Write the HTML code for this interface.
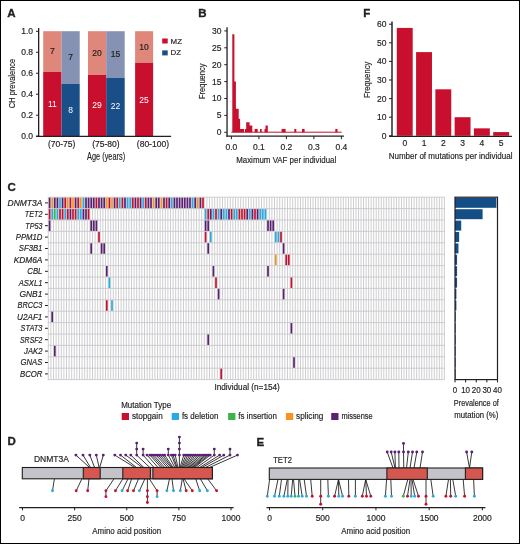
<!DOCTYPE html>
<html><head><meta charset="utf-8"><style>
html,body{margin:0;padding:0;background:#fff;width:520px;height:544px;overflow:hidden;}
#fig{color:#231f20;position:relative;width:520px;height:544px;overflow:hidden;background:#fff;}
#fig svg{position:absolute;left:0;top:0;will-change:transform;}
#frame{position:absolute;left:0;top:0;width:520px;height:544px;box-sizing:border-box;border:1px solid #000;}
text{font-family:"Liberation Sans", sans-serif;}
text.b{stroke:#231f20;stroke-width:0.35px;}
</style></head><body><div id="fig">
<svg width="520" height="544" viewBox="0 0 520 544" fill="#231f20">
<text x="7.30" y="17.00" font-size="11.5" class="b" font-weight="bold">A</text>
<line x1="38.65" y1="27.90" x2="38.65" y2="136.90" stroke="#231f20" stroke-width="1.3"/>
<line x1="36.00" y1="136.20" x2="38.65" y2="136.20" stroke="#231f20" stroke-width="1.0"/>
<text x="33.00" y="139.10" font-size="8.5" text-anchor="end" stroke="#231f20" stroke-width="0.18">0.0</text>
<line x1="36.00" y1="115.22" x2="38.65" y2="115.22" stroke="#231f20" stroke-width="1.0"/>
<text x="33.00" y="118.12" font-size="8.5" text-anchor="end" stroke="#231f20" stroke-width="0.18">0.2</text>
<line x1="36.00" y1="94.24" x2="38.65" y2="94.24" stroke="#231f20" stroke-width="1.0"/>
<text x="33.00" y="97.14" font-size="8.5" text-anchor="end" stroke="#231f20" stroke-width="0.18">0.4</text>
<line x1="36.00" y1="73.26" x2="38.65" y2="73.26" stroke="#231f20" stroke-width="1.0"/>
<text x="33.00" y="76.16" font-size="8.5" text-anchor="end" stroke="#231f20" stroke-width="0.18">0.6</text>
<line x1="36.00" y1="52.28" x2="38.65" y2="52.28" stroke="#231f20" stroke-width="1.0"/>
<text x="33.00" y="55.18" font-size="8.5" text-anchor="end" stroke="#231f20" stroke-width="0.18">0.8</text>
<line x1="36.00" y1="31.30" x2="38.65" y2="31.30" stroke="#231f20" stroke-width="1.0"/>
<text x="33.00" y="34.20" font-size="8.5" text-anchor="end" stroke="#231f20" stroke-width="0.18">1.0</text>
<text x="14.90" y="83.50" font-size="9" text-anchor="middle" stroke="#231f20" stroke-width="0.18" textLength="49.40" lengthAdjust="spacingAndGlyphs" transform="rotate(-90 14.90 83.50)">CH prevalence</text>
<rect x="43.20" y="31.20" width="18.30" height="40.80" fill="#df877a"/>
<rect x="43.20" y="72.00" width="18.30" height="64.20" fill="#c8102e"/>
<text x="52.35" y="54.10" font-size="8.5" text-anchor="middle" stroke="#231f20" stroke-width="0.18">7</text>
<text x="52.35" y="106.90" font-size="8.5" class="w" text-anchor="middle" fill="#ffffff">11</text>
<rect x="61.50" y="31.20" width="18.20" height="52.60" fill="#8692b4"/>
<rect x="61.50" y="83.80" width="18.20" height="52.40" fill="#1a4e86"/>
<text x="70.60" y="59.90" font-size="8.5" text-anchor="middle" stroke="#231f20" stroke-width="0.18">7</text>
<text x="70.60" y="113.10" font-size="8.5" class="w" text-anchor="middle" fill="#ffffff">8</text>
<rect x="88.00" y="31.20" width="18.20" height="43.80" fill="#df877a"/>
<rect x="88.00" y="75.00" width="18.20" height="61.20" fill="#c8102e"/>
<text x="97.10" y="55.95" font-size="8.5" text-anchor="middle" stroke="#231f20" stroke-width="0.18">20</text>
<text x="97.10" y="108.20" font-size="8.5" class="w" text-anchor="middle" fill="#ffffff">29</text>
<rect x="106.20" y="31.20" width="18.50" height="46.60" fill="#8692b4"/>
<rect x="106.20" y="77.80" width="18.50" height="58.40" fill="#1a4e86"/>
<text x="115.45" y="56.95" font-size="8.5" text-anchor="middle" stroke="#231f20" stroke-width="0.18">15</text>
<text x="115.45" y="109.40" font-size="8.5" class="w" text-anchor="middle" fill="#ffffff">22</text>
<rect x="135.10" y="31.20" width="18.00" height="31.60" fill="#df877a"/>
<rect x="135.10" y="62.80" width="18.00" height="73.40" fill="#c8102e"/>
<text x="144.10" y="49.50" font-size="8.5" text-anchor="middle" stroke="#231f20" stroke-width="0.18">10</text>
<text x="144.10" y="102.50" font-size="8.5" class="w" text-anchor="middle" fill="#ffffff">25</text>
<line x1="36.00" y1="136.35" x2="171.10" y2="136.35" stroke="#231f20" stroke-width="1.2"/>
<text x="61.60" y="146.60" font-size="8.5" text-anchor="middle" stroke="#231f20" stroke-width="0.18">(70-75)</text>
<text x="105.90" y="146.60" font-size="8.5" text-anchor="middle" stroke="#231f20" stroke-width="0.18">(75-80)</text>
<text x="152.90" y="146.60" font-size="8.5" text-anchor="middle" stroke="#231f20" stroke-width="0.18">(80-100)</text>
<text x="106.10" y="160.40" font-size="10" text-anchor="middle" stroke="#231f20" stroke-width="0.18" textLength="38.00" lengthAdjust="spacingAndGlyphs">Age (years)</text>
<rect x="162.20" y="38.50" width="5.50" height="5.00" fill="#c8102e"/>
<rect x="162.20" y="50.40" width="5.50" height="5.00" fill="#1a4e86"/>
<text x="170.60" y="43.50" font-size="8" stroke="#231f20" stroke-width="0.18" textLength="11.40" lengthAdjust="spacingAndGlyphs">MZ</text>
<text x="170.60" y="55.40" font-size="8" stroke="#231f20" stroke-width="0.18" textLength="10.50" lengthAdjust="spacingAndGlyphs">DZ</text>
<text x="198.20" y="17.20" font-size="11.5" class="b" font-weight="bold">B</text>
<line x1="227.05" y1="27.30" x2="227.05" y2="136.80" stroke="#231f20" stroke-width="1.3"/>
<line x1="224.30" y1="132.30" x2="227.05" y2="132.30" stroke="#231f20" stroke-width="1.0"/>
<text x="221.50" y="135.20" font-size="8.5" text-anchor="end" stroke="#231f20" stroke-width="0.18">0</text>
<line x1="224.30" y1="115.40" x2="227.05" y2="115.40" stroke="#231f20" stroke-width="1.0"/>
<text x="221.50" y="118.30" font-size="8.5" text-anchor="end" stroke="#231f20" stroke-width="0.18">5</text>
<line x1="224.30" y1="98.50" x2="227.05" y2="98.50" stroke="#231f20" stroke-width="1.0"/>
<text x="221.50" y="101.40" font-size="8.5" text-anchor="end" stroke="#231f20" stroke-width="0.18">10</text>
<line x1="224.30" y1="81.60" x2="227.05" y2="81.60" stroke="#231f20" stroke-width="1.0"/>
<text x="221.50" y="84.50" font-size="8.5" text-anchor="end" stroke="#231f20" stroke-width="0.18">15</text>
<line x1="224.30" y1="64.70" x2="227.05" y2="64.70" stroke="#231f20" stroke-width="1.0"/>
<text x="221.50" y="67.60" font-size="8.5" text-anchor="end" stroke="#231f20" stroke-width="0.18">20</text>
<line x1="224.30" y1="47.80" x2="227.05" y2="47.80" stroke="#231f20" stroke-width="1.0"/>
<text x="221.50" y="50.70" font-size="8.5" text-anchor="end" stroke="#231f20" stroke-width="0.18">25</text>
<line x1="224.30" y1="30.90" x2="227.05" y2="30.90" stroke="#231f20" stroke-width="1.0"/>
<text x="221.50" y="33.80" font-size="8.5" text-anchor="end" stroke="#231f20" stroke-width="0.18">30</text>
<text x="205.30" y="81.30" font-size="8.5" text-anchor="middle" stroke="#231f20" stroke-width="0.18" textLength="35.50" lengthAdjust="spacingAndGlyphs" transform="rotate(-90 205.30 81.30)">Frequency</text>
<path d="M232.30,132.30 L232.30,34.28 L234.40,34.28 L234.40,81.60 L235.90,81.60 L235.90,108.64 L238.70,108.64 L238.70,118.78 L240.10,118.78 L240.10,128.92 L244.00,128.92 L244.00,132.30 Z" fill="#c8102e"/>
<path d="M244.90,132.30 L244.90,128.92 L246.20,128.92 L246.20,122.16 L249.60,122.16 L249.60,125.54 L252.30,125.54 L252.30,132.30 Z" fill="#c8102e"/>
<path d="M254.60,132.30 L254.60,128.92 L257.70,128.92 L257.70,132.30 Z" fill="#c8102e"/>
<path d="M260.00,132.30 L260.00,128.92 L261.70,128.92 L261.70,132.30 Z" fill="#c8102e"/>
<path d="M264.50,132.30 L264.50,128.92 L265.50,128.92 L265.50,125.54 L267.80,125.54 L267.80,132.30 Z" fill="#c8102e"/>
<path d="M281.60,132.30 L281.60,128.92 L285.60,128.92 L285.60,132.30 Z" fill="#c8102e"/>
<path d="M294.30,132.30 L294.30,128.92 L296.30,128.92 L296.30,132.30 Z" fill="#c8102e"/>
<path d="M302.00,132.30 L302.00,128.92 L304.60,128.92 L304.60,132.30 Z" fill="#c8102e"/>
<path d="M335.30,132.30 L335.30,128.92 L337.50,128.92 L337.50,132.30 Z" fill="#c8102e"/>
<line x1="231.30" y1="132.20" x2="341.70" y2="132.20" stroke="#c8102e" stroke-width="1.0"/>
<line x1="226.40" y1="136.15" x2="343.90" y2="136.15" stroke="#231f20" stroke-width="1.2"/>
<line x1="231.40" y1="136.15" x2="231.40" y2="139.20" stroke="#231f20" stroke-width="1.0"/>
<text x="231.40" y="149.90" font-size="8.5" text-anchor="middle" stroke="#231f20" stroke-width="0.18">0.0</text>
<line x1="258.90" y1="136.15" x2="258.90" y2="139.20" stroke="#231f20" stroke-width="1.0"/>
<text x="258.90" y="149.90" font-size="8.5" text-anchor="middle" stroke="#231f20" stroke-width="0.18">0.1</text>
<line x1="286.40" y1="136.15" x2="286.40" y2="139.20" stroke="#231f20" stroke-width="1.0"/>
<text x="286.40" y="149.90" font-size="8.5" text-anchor="middle" stroke="#231f20" stroke-width="0.18">0.2</text>
<line x1="313.90" y1="136.15" x2="313.90" y2="139.20" stroke="#231f20" stroke-width="1.0"/>
<text x="313.90" y="149.90" font-size="8.5" text-anchor="middle" stroke="#231f20" stroke-width="0.18">0.3</text>
<line x1="341.40" y1="136.15" x2="341.40" y2="139.20" stroke="#231f20" stroke-width="1.0"/>
<text x="341.40" y="149.90" font-size="8.5" text-anchor="middle" stroke="#231f20" stroke-width="0.18">0.4</text>
<text x="286.20" y="162.90" font-size="9.2" text-anchor="middle" stroke="#231f20" stroke-width="0.18" textLength="100.00" lengthAdjust="spacingAndGlyphs">Maximum VAF per individual</text>
<text x="363.20" y="16.90" font-size="11.5" class="b" font-weight="bold">F</text>
<line x1="392.00" y1="21.50" x2="392.00" y2="136.80" stroke="#231f20" stroke-width="1.45"/>
<line x1="389.00" y1="135.80" x2="392.00" y2="135.80" stroke="#231f20" stroke-width="1.0"/>
<text x="386.50" y="138.70" font-size="8.5" text-anchor="end" stroke="#231f20" stroke-width="0.18">0</text>
<line x1="389.00" y1="117.20" x2="392.00" y2="117.20" stroke="#231f20" stroke-width="1.0"/>
<text x="386.50" y="120.10" font-size="8.5" text-anchor="end" stroke="#231f20" stroke-width="0.18">10</text>
<line x1="389.00" y1="98.60" x2="392.00" y2="98.60" stroke="#231f20" stroke-width="1.0"/>
<text x="386.50" y="101.50" font-size="8.5" text-anchor="end" stroke="#231f20" stroke-width="0.18">20</text>
<line x1="389.00" y1="80.00" x2="392.00" y2="80.00" stroke="#231f20" stroke-width="1.0"/>
<text x="386.50" y="82.90" font-size="8.5" text-anchor="end" stroke="#231f20" stroke-width="0.18">30</text>
<line x1="389.00" y1="61.40" x2="392.00" y2="61.40" stroke="#231f20" stroke-width="1.0"/>
<text x="386.50" y="64.30" font-size="8.5" text-anchor="end" stroke="#231f20" stroke-width="0.18">40</text>
<line x1="389.00" y1="42.80" x2="392.00" y2="42.80" stroke="#231f20" stroke-width="1.0"/>
<text x="386.50" y="45.70" font-size="8.5" text-anchor="end" stroke="#231f20" stroke-width="0.18">50</text>
<line x1="389.00" y1="24.20" x2="392.00" y2="24.20" stroke="#231f20" stroke-width="1.0"/>
<text x="386.50" y="27.10" font-size="8.5" text-anchor="end" stroke="#231f20" stroke-width="0.18">60</text>
<text x="370.30" y="79.80" font-size="8.5" text-anchor="middle" stroke="#231f20" stroke-width="0.18" textLength="36.40" lengthAdjust="spacingAndGlyphs" transform="rotate(-90 370.30 79.80)">Frequency</text>
<rect x="396.80" y="27.92" width="15.90" height="107.88" fill="#c8102e"/>
<text x="404.75" y="146.40" font-size="8.5" text-anchor="middle" stroke="#231f20" stroke-width="0.18">0</text>
<rect x="416.08" y="52.10" width="15.90" height="83.70" fill="#c8102e"/>
<text x="424.03" y="146.40" font-size="8.5" text-anchor="middle" stroke="#231f20" stroke-width="0.18">1</text>
<rect x="435.36" y="89.30" width="15.90" height="46.50" fill="#c8102e"/>
<text x="443.31" y="146.40" font-size="8.5" text-anchor="middle" stroke="#231f20" stroke-width="0.18">2</text>
<rect x="454.64" y="117.20" width="15.90" height="18.60" fill="#c8102e"/>
<text x="462.59" y="146.40" font-size="8.5" text-anchor="middle" stroke="#231f20" stroke-width="0.18">3</text>
<rect x="473.92" y="128.36" width="15.90" height="7.44" fill="#c8102e"/>
<text x="481.87" y="146.40" font-size="8.5" text-anchor="middle" stroke="#231f20" stroke-width="0.18">4</text>
<rect x="493.20" y="132.08" width="15.90" height="3.72" fill="#c8102e"/>
<text x="501.15" y="146.40" font-size="8.5" text-anchor="middle" stroke="#231f20" stroke-width="0.18">5</text>
<line x1="389.20" y1="136.30" x2="511.90" y2="136.30" stroke="#231f20" stroke-width="1.2"/>
<text x="450.60" y="159.30" font-size="8.7" text-anchor="middle" stroke="#231f20" stroke-width="0.18" textLength="123.80" lengthAdjust="spacingAndGlyphs">Number of mutations per individual</text>
<text x="7.40" y="191.20" font-size="11.5" class="b" font-weight="bold">C</text>
<text x="42.40" y="205.80" font-size="8.5" text-anchor="end" stroke="#231f20" stroke-width="0.18" font-style="italic" textLength="34.78" lengthAdjust="spacingAndGlyphs">DNMT3A</text>
<line x1="45.00" y1="202.90" x2="48.00" y2="202.90" stroke="#231f20" stroke-width="1.0"/>
<text x="42.40" y="217.20" font-size="8.5" text-anchor="end" stroke="#231f20" stroke-width="0.18" font-style="italic" textLength="17.64" lengthAdjust="spacingAndGlyphs">TET2</text>
<line x1="45.00" y1="214.30" x2="48.00" y2="214.30" stroke="#231f20" stroke-width="1.0"/>
<text x="42.40" y="228.60" font-size="8.5" text-anchor="end" stroke="#231f20" stroke-width="0.18" font-style="italic" textLength="17.08" lengthAdjust="spacingAndGlyphs">TP53</text>
<line x1="45.00" y1="225.70" x2="48.00" y2="225.70" stroke="#231f20" stroke-width="1.0"/>
<text x="42.40" y="240.00" font-size="8.5" text-anchor="end" stroke="#231f20" stroke-width="0.18" font-style="italic" textLength="26.64" lengthAdjust="spacingAndGlyphs">PPM1D</text>
<line x1="45.00" y1="237.10" x2="48.00" y2="237.10" stroke="#231f20" stroke-width="1.0"/>
<text x="42.40" y="251.40" font-size="8.5" text-anchor="end" stroke="#231f20" stroke-width="0.18" font-style="italic" textLength="23.56" lengthAdjust="spacingAndGlyphs">SF3B1</text>
<line x1="45.00" y1="248.50" x2="48.00" y2="248.50" stroke="#231f20" stroke-width="1.0"/>
<text x="42.40" y="262.80" font-size="8.5" text-anchor="end" stroke="#231f20" stroke-width="0.18" font-style="italic" textLength="28.66" lengthAdjust="spacingAndGlyphs">KDM6A</text>
<line x1="45.00" y1="259.90" x2="48.00" y2="259.90" stroke="#231f20" stroke-width="1.0"/>
<text x="42.40" y="274.20" font-size="8.5" text-anchor="end" stroke="#231f20" stroke-width="0.18" font-style="italic" textLength="15.12" lengthAdjust="spacingAndGlyphs">CBL</text>
<line x1="45.00" y1="271.30" x2="48.00" y2="271.30" stroke="#231f20" stroke-width="1.0"/>
<text x="42.40" y="285.60" font-size="8.5" text-anchor="end" stroke="#231f20" stroke-width="0.18" font-style="italic" textLength="23.76" lengthAdjust="spacingAndGlyphs">ASXL1</text>
<line x1="45.00" y1="282.70" x2="48.00" y2="282.70" stroke="#231f20" stroke-width="1.0"/>
<text x="42.40" y="297.00" font-size="8.5" text-anchor="end" stroke="#231f20" stroke-width="0.18" font-style="italic" textLength="22.90" lengthAdjust="spacingAndGlyphs">GNB1</text>
<line x1="45.00" y1="294.10" x2="48.00" y2="294.10" stroke="#231f20" stroke-width="1.0"/>
<text x="42.40" y="308.40" font-size="8.5" text-anchor="end" stroke="#231f20" stroke-width="0.18" font-style="italic" textLength="24.86" lengthAdjust="spacingAndGlyphs">BRCC3</text>
<line x1="45.00" y1="305.50" x2="48.00" y2="305.50" stroke="#231f20" stroke-width="1.0"/>
<text x="42.40" y="319.80" font-size="8.5" text-anchor="end" stroke="#231f20" stroke-width="0.18" font-style="italic" textLength="25.34" lengthAdjust="spacingAndGlyphs">U2AF1</text>
<line x1="45.00" y1="316.90" x2="48.00" y2="316.90" stroke="#231f20" stroke-width="1.0"/>
<text x="42.40" y="331.20" font-size="8.5" text-anchor="end" stroke="#231f20" stroke-width="0.18" font-style="italic" textLength="21.86" lengthAdjust="spacingAndGlyphs">STAT3</text>
<line x1="45.00" y1="328.30" x2="48.00" y2="328.30" stroke="#231f20" stroke-width="1.0"/>
<text x="42.40" y="342.60" font-size="8.5" text-anchor="end" stroke="#231f20" stroke-width="0.18" font-style="italic" textLength="22.42" lengthAdjust="spacingAndGlyphs">SRSF2</text>
<line x1="45.00" y1="339.70" x2="48.00" y2="339.70" stroke="#231f20" stroke-width="1.0"/>
<text x="42.40" y="354.00" font-size="8.5" text-anchor="end" stroke="#231f20" stroke-width="0.18" font-style="italic" textLength="18.30" lengthAdjust="spacingAndGlyphs">JAK2</text>
<line x1="45.00" y1="351.10" x2="48.00" y2="351.10" stroke="#231f20" stroke-width="1.0"/>
<text x="42.40" y="365.40" font-size="8.5" text-anchor="end" stroke="#231f20" stroke-width="0.18" font-style="italic" textLength="21.86" lengthAdjust="spacingAndGlyphs">GNAS</text>
<line x1="45.00" y1="362.50" x2="48.00" y2="362.50" stroke="#231f20" stroke-width="1.0"/>
<text x="42.40" y="376.80" font-size="8.5" text-anchor="end" stroke="#231f20" stroke-width="0.18" font-style="italic" textLength="22.44" lengthAdjust="spacingAndGlyphs">BCOR</text>
<line x1="45.00" y1="373.90" x2="48.00" y2="373.90" stroke="#231f20" stroke-width="1.0"/>
<rect x="48.30" y="197.20" width="396.10" height="182.40" fill="#ffffff"/>
<path d="M48.30 197.20V379.60M50.90 197.20V379.60M53.50 197.20V379.60M56.10 197.20V379.60M58.70 197.20V379.60M61.30 197.20V379.60M63.90 197.20V379.60M66.50 197.20V379.60M69.10 197.20V379.60M71.70 197.20V379.60M74.30 197.20V379.60M76.90 197.20V379.60M79.50 197.20V379.60M82.10 197.20V379.60M84.70 197.20V379.60M87.30 197.20V379.60M89.90 197.20V379.60M92.50 197.20V379.60M95.10 197.20V379.60M97.70 197.20V379.60M100.30 197.20V379.60M102.90 197.20V379.60M105.50 197.20V379.60M108.10 197.20V379.60M110.70 197.20V379.60M113.30 197.20V379.60M115.90 197.20V379.60M118.50 197.20V379.60M121.10 197.20V379.60M123.70 197.20V379.60M126.30 197.20V379.60M128.90 197.20V379.60M131.50 197.20V379.60M134.10 197.20V379.60M136.70 197.20V379.60M139.30 197.20V379.60M141.90 197.20V379.60M144.50 197.20V379.60M147.10 197.20V379.60M149.70 197.20V379.60M152.30 197.20V379.60M154.90 197.20V379.60M157.50 197.20V379.60M160.10 197.20V379.60M162.70 197.20V379.60M165.30 197.20V379.60M167.90 197.20V379.60M170.50 197.20V379.60M173.10 197.20V379.60M175.70 197.20V379.60M178.30 197.20V379.60M180.90 197.20V379.60M183.50 197.20V379.60M186.10 197.20V379.60M188.70 197.20V379.60M191.30 197.20V379.60M193.90 197.20V379.60M196.50 197.20V379.60M199.10 197.20V379.60M201.70 197.20V379.60M204.30 197.20V379.60M206.90 197.20V379.60M209.50 197.20V379.60M212.10 197.20V379.60M214.70 197.20V379.60M217.30 197.20V379.60M219.90 197.20V379.60M222.50 197.20V379.60M225.10 197.20V379.60M227.70 197.20V379.60M230.30 197.20V379.60M232.90 197.20V379.60M235.50 197.20V379.60M238.10 197.20V379.60M240.70 197.20V379.60M243.30 197.20V379.60M245.90 197.20V379.60M248.50 197.20V379.60M251.10 197.20V379.60M253.70 197.20V379.60M256.30 197.20V379.60M258.90 197.20V379.60M261.50 197.20V379.60M264.10 197.20V379.60M266.70 197.20V379.60M269.30 197.20V379.60M271.90 197.20V379.60M274.50 197.20V379.60M277.10 197.20V379.60M279.70 197.20V379.60M282.30 197.20V379.60M284.90 197.20V379.60M287.50 197.20V379.60M290.10 197.20V379.60M292.70 197.20V379.60M295.30 197.20V379.60M297.90 197.20V379.60M300.43 197.20V379.60M302.95 197.20V379.60M305.48 197.20V379.60M308.00 197.20V379.60M310.53 197.20V379.60M313.06 197.20V379.60M315.58 197.20V379.60M318.11 197.20V379.60M320.63 197.20V379.60M323.16 197.20V379.60M325.68 197.20V379.60M328.21 197.20V379.60M330.74 197.20V379.60M333.26 197.20V379.60M335.79 197.20V379.60M338.31 197.20V379.60M340.84 197.20V379.60M343.37 197.20V379.60M345.89 197.20V379.60M348.42 197.20V379.60M350.94 197.20V379.60M353.47 197.20V379.60M355.99 197.20V379.60M358.52 197.20V379.60M361.05 197.20V379.60M363.57 197.20V379.60M366.10 197.20V379.60M368.62 197.20V379.60M371.15 197.20V379.60M373.68 197.20V379.60M376.20 197.20V379.60M378.73 197.20V379.60M381.25 197.20V379.60M383.78 197.20V379.60M386.31 197.20V379.60M388.83 197.20V379.60M391.36 197.20V379.60M393.88 197.20V379.60M396.41 197.20V379.60M398.93 197.20V379.60M401.46 197.20V379.60M403.99 197.20V379.60M406.51 197.20V379.60M409.04 197.20V379.60M411.56 197.20V379.60M414.09 197.20V379.60M416.62 197.20V379.60M419.14 197.20V379.60M421.67 197.20V379.60M424.19 197.20V379.60M426.72 197.20V379.60M429.24 197.20V379.60M431.77 197.20V379.60M434.30 197.20V379.60M436.82 197.20V379.60M439.35 197.20V379.60M441.87 197.20V379.60M444.40 197.20V379.60M47.85 197.20H444.85M47.85 208.60H444.85M47.85 220.00H444.85M47.85 231.40H444.85M47.85 242.80H444.85M47.85 254.20H444.85M47.85 265.60H444.85M47.85 277.00H444.85M47.85 288.40H444.85M47.85 299.80H444.85M47.85 311.20H444.85M47.85 322.60H444.85M47.85 334.00H444.85M47.85 345.40H444.85M47.85 356.80H444.85M47.85 368.20H444.85M47.85 379.60H444.85" stroke="#c8c8cc" stroke-width="0.9" fill="none"/>
<rect x="48.75" y="197.65" width="1.70" height="10.50" fill="#5b1f73"/>
<rect x="51.35" y="197.65" width="1.70" height="10.50" fill="#f7941d"/>
<rect x="53.95" y="197.65" width="1.70" height="10.50" fill="#5b1f73"/>
<rect x="56.55" y="197.65" width="1.70" height="10.50" fill="#5b1f73"/>
<rect x="59.15" y="197.65" width="1.70" height="10.50" fill="#29abe2"/>
<rect x="61.75" y="197.65" width="1.70" height="10.50" fill="#5b1f73"/>
<rect x="64.35" y="197.65" width="1.70" height="10.50" fill="#c8102e"/>
<rect x="66.95" y="197.65" width="1.70" height="10.50" fill="#f7941d"/>
<rect x="69.55" y="197.65" width="1.70" height="10.50" fill="#c8102e"/>
<rect x="72.15" y="197.65" width="1.70" height="10.50" fill="#f7941d"/>
<rect x="74.75" y="197.65" width="1.70" height="10.50" fill="#5b1f73"/>
<rect x="77.35" y="197.65" width="1.70" height="10.50" fill="#c8102e"/>
<rect x="79.95" y="197.65" width="1.70" height="10.50" fill="#f7941d"/>
<rect x="82.55" y="197.65" width="1.70" height="10.50" fill="#29abe2"/>
<rect x="85.15" y="197.65" width="1.70" height="10.50" fill="#5b1f73"/>
<rect x="87.75" y="197.65" width="1.70" height="10.50" fill="#5b1f73"/>
<rect x="90.35" y="197.65" width="1.70" height="10.50" fill="#5b1f73"/>
<rect x="92.95" y="197.65" width="1.70" height="10.50" fill="#5b1f73"/>
<rect x="95.55" y="197.65" width="1.70" height="10.50" fill="#c8102e"/>
<rect x="98.15" y="197.65" width="1.70" height="10.50" fill="#5b1f73"/>
<rect x="100.75" y="197.65" width="1.70" height="10.50" fill="#5b1f73"/>
<rect x="103.35" y="197.65" width="1.70" height="10.50" fill="#5b1f73"/>
<rect x="105.95" y="197.65" width="1.70" height="10.50" fill="#f7941d"/>
<rect x="108.55" y="197.65" width="1.70" height="10.50" fill="#c8102e"/>
<rect x="111.15" y="197.65" width="1.70" height="10.50" fill="#f7941d"/>
<rect x="113.75" y="197.65" width="1.70" height="10.50" fill="#5b1f73"/>
<rect x="116.35" y="197.65" width="1.70" height="10.50" fill="#c8102e"/>
<rect x="118.95" y="197.65" width="1.70" height="10.50" fill="#29abe2"/>
<rect x="121.55" y="197.65" width="1.70" height="10.50" fill="#c8102e"/>
<rect x="124.15" y="197.65" width="1.70" height="10.50" fill="#5b1f73"/>
<rect x="126.75" y="197.65" width="1.70" height="10.50" fill="#29abe2"/>
<rect x="129.35" y="197.65" width="1.70" height="10.50" fill="#29abe2"/>
<rect x="131.95" y="197.65" width="1.70" height="10.50" fill="#c8102e"/>
<rect x="134.55" y="197.65" width="1.70" height="10.50" fill="#5b1f73"/>
<rect x="137.15" y="197.65" width="1.70" height="10.50" fill="#c8102e"/>
<rect x="139.75" y="197.65" width="1.70" height="10.50" fill="#5b1f73"/>
<rect x="142.35" y="197.65" width="1.70" height="10.50" fill="#29abe2"/>
<rect x="144.95" y="197.65" width="1.70" height="10.50" fill="#c8102e"/>
<rect x="147.55" y="197.65" width="1.70" height="10.50" fill="#5b1f73"/>
<rect x="150.15" y="197.65" width="1.70" height="10.50" fill="#5b1f73"/>
<rect x="152.75" y="197.65" width="1.70" height="10.50" fill="#f7941d"/>
<rect x="155.35" y="197.65" width="1.70" height="10.50" fill="#5b1f73"/>
<rect x="157.95" y="197.65" width="1.70" height="10.50" fill="#5b1f73"/>
<rect x="160.55" y="197.65" width="1.70" height="10.50" fill="#f7941d"/>
<rect x="163.15" y="197.65" width="1.70" height="10.50" fill="#5b1f73"/>
<rect x="165.75" y="197.65" width="1.70" height="10.50" fill="#c8102e"/>
<rect x="168.35" y="197.65" width="1.70" height="10.50" fill="#5b1f73"/>
<rect x="170.95" y="197.65" width="1.70" height="10.50" fill="#29abe2"/>
<rect x="173.55" y="197.65" width="1.70" height="10.50" fill="#5b1f73"/>
<rect x="176.15" y="197.65" width="1.70" height="10.50" fill="#5b1f73"/>
<rect x="178.75" y="197.65" width="1.70" height="10.50" fill="#5b1f73"/>
<rect x="181.35" y="197.65" width="1.70" height="10.50" fill="#5b1f73"/>
<rect x="183.95" y="197.65" width="1.70" height="10.50" fill="#5b1f73"/>
<rect x="186.55" y="197.65" width="1.70" height="10.50" fill="#5b1f73"/>
<rect x="189.15" y="197.65" width="1.70" height="10.50" fill="#5b1f73"/>
<rect x="191.75" y="197.65" width="1.70" height="10.50" fill="#29abe2"/>
<rect x="194.35" y="197.65" width="1.70" height="10.50" fill="#5b1f73"/>
<rect x="196.95" y="197.65" width="1.70" height="10.50" fill="#f7941d"/>
<rect x="199.55" y="197.65" width="1.70" height="10.50" fill="#5b1f73"/>
<rect x="202.15" y="197.65" width="1.70" height="10.50" fill="#c8102e"/>
<rect x="48.75" y="209.05" width="1.70" height="10.50" fill="#c8102e"/>
<rect x="51.35" y="209.05" width="1.70" height="10.50" fill="#29abe2"/>
<rect x="53.95" y="209.05" width="1.70" height="10.50" fill="#39b54a"/>
<rect x="56.55" y="209.05" width="1.70" height="10.50" fill="#29abe2"/>
<rect x="59.15" y="209.05" width="1.70" height="10.50" fill="#c8102e"/>
<rect x="61.75" y="209.05" width="1.70" height="10.50" fill="#c8102e"/>
<rect x="64.35" y="209.05" width="1.70" height="10.50" fill="#29abe2"/>
<rect x="66.95" y="209.05" width="1.70" height="10.50" fill="#c8102e"/>
<rect x="69.55" y="209.05" width="1.70" height="10.50" fill="#5b1f73"/>
<rect x="72.15" y="209.05" width="1.70" height="10.50" fill="#c8102e"/>
<rect x="74.75" y="209.05" width="1.70" height="10.50" fill="#c8102e"/>
<rect x="77.35" y="209.05" width="1.70" height="10.50" fill="#29abe2"/>
<rect x="79.95" y="209.05" width="1.70" height="10.50" fill="#29abe2"/>
<rect x="82.55" y="209.05" width="1.70" height="10.50" fill="#5b1f73"/>
<rect x="85.15" y="209.05" width="1.70" height="10.50" fill="#5b1f73"/>
<rect x="87.75" y="209.05" width="1.70" height="10.50" fill="#c8102e"/>
<rect x="204.75" y="209.05" width="1.70" height="10.50" fill="#29abe2"/>
<rect x="207.35" y="209.05" width="1.70" height="10.50" fill="#c8102e"/>
<rect x="209.95" y="209.05" width="1.70" height="10.50" fill="#5b1f73"/>
<rect x="212.55" y="209.05" width="1.70" height="10.50" fill="#29abe2"/>
<rect x="215.15" y="209.05" width="1.70" height="10.50" fill="#c8102e"/>
<rect x="217.75" y="209.05" width="1.70" height="10.50" fill="#29abe2"/>
<rect x="220.35" y="209.05" width="1.70" height="10.50" fill="#5b1f73"/>
<rect x="222.95" y="209.05" width="1.70" height="10.50" fill="#29abe2"/>
<rect x="225.55" y="209.05" width="1.70" height="10.50" fill="#29abe2"/>
<rect x="228.15" y="209.05" width="1.70" height="10.50" fill="#5b1f73"/>
<rect x="230.75" y="209.05" width="1.70" height="10.50" fill="#c8102e"/>
<rect x="233.35" y="209.05" width="1.70" height="10.50" fill="#29abe2"/>
<rect x="235.95" y="209.05" width="1.70" height="10.50" fill="#29abe2"/>
<rect x="238.55" y="209.05" width="1.70" height="10.50" fill="#c8102e"/>
<rect x="241.15" y="209.05" width="1.70" height="10.50" fill="#c8102e"/>
<rect x="243.75" y="209.05" width="1.70" height="10.50" fill="#c8102e"/>
<rect x="246.35" y="209.05" width="1.70" height="10.50" fill="#5b1f73"/>
<rect x="248.95" y="209.05" width="1.70" height="10.50" fill="#29abe2"/>
<rect x="251.55" y="209.05" width="1.70" height="10.50" fill="#5b1f73"/>
<rect x="254.15" y="209.05" width="1.70" height="10.50" fill="#c8102e"/>
<rect x="256.75" y="209.05" width="1.70" height="10.50" fill="#5b1f73"/>
<rect x="259.35" y="209.05" width="1.70" height="10.50" fill="#29abe2"/>
<rect x="261.95" y="209.05" width="1.70" height="10.50" fill="#29abe2"/>
<rect x="264.55" y="209.05" width="1.70" height="10.50" fill="#29abe2"/>
<rect x="48.75" y="220.45" width="1.70" height="10.50" fill="#5b1f73"/>
<rect x="90.35" y="220.45" width="1.70" height="10.50" fill="#5b1f73"/>
<rect x="92.95" y="220.45" width="1.70" height="10.50" fill="#5b1f73"/>
<rect x="95.55" y="220.45" width="1.70" height="10.50" fill="#5b1f73"/>
<rect x="204.75" y="220.45" width="1.70" height="10.50" fill="#5b1f73"/>
<rect x="207.35" y="220.45" width="1.70" height="10.50" fill="#5b1f73"/>
<rect x="267.15" y="220.45" width="1.70" height="10.50" fill="#5b1f73"/>
<rect x="269.75" y="220.45" width="1.70" height="10.50" fill="#5b1f73"/>
<rect x="272.35" y="220.45" width="1.70" height="10.50" fill="#5b1f73"/>
<rect x="98.15" y="231.85" width="1.70" height="10.50" fill="#c8102e"/>
<rect x="204.75" y="231.85" width="1.70" height="10.50" fill="#c8102e"/>
<rect x="209.95" y="231.85" width="1.70" height="10.50" fill="#29abe2"/>
<rect x="274.95" y="231.85" width="1.70" height="10.50" fill="#29abe2"/>
<rect x="277.55" y="231.85" width="1.70" height="10.50" fill="#29abe2"/>
<rect x="280.15" y="231.85" width="1.70" height="10.50" fill="#c8102e"/>
<rect x="90.35" y="243.25" width="1.70" height="10.50" fill="#5b1f73"/>
<rect x="100.75" y="243.25" width="1.70" height="10.50" fill="#5b1f73"/>
<rect x="103.35" y="243.25" width="1.70" height="10.50" fill="#5b1f73"/>
<rect x="207.35" y="243.25" width="1.70" height="10.50" fill="#5b1f73"/>
<rect x="282.75" y="243.25" width="1.70" height="10.50" fill="#5b1f73"/>
<rect x="274.95" y="254.65" width="1.70" height="10.50" fill="#f7941d"/>
<rect x="285.35" y="254.65" width="1.70" height="10.50" fill="#c8102e"/>
<rect x="287.95" y="254.65" width="1.70" height="10.50" fill="#c8102e"/>
<rect x="105.95" y="266.05" width="1.70" height="10.50" fill="#5b1f73"/>
<rect x="212.55" y="266.05" width="1.70" height="10.50" fill="#5b1f73"/>
<rect x="267.15" y="266.05" width="1.70" height="10.50" fill="#5b1f73"/>
<rect x="108.55" y="277.45" width="1.70" height="10.50" fill="#29abe2"/>
<rect x="215.15" y="277.45" width="1.70" height="10.50" fill="#c8102e"/>
<rect x="290.55" y="277.45" width="1.70" height="10.50" fill="#c8102e"/>
<rect x="217.75" y="288.85" width="1.70" height="10.50" fill="#5b1f73"/>
<rect x="282.75" y="288.85" width="1.70" height="10.50" fill="#5b1f73"/>
<rect x="105.95" y="300.25" width="1.70" height="10.50" fill="#c8102e"/>
<rect x="111.15" y="300.25" width="1.70" height="10.50" fill="#29abe2"/>
<rect x="51.35" y="311.65" width="1.70" height="10.50" fill="#5b1f73"/>
<rect x="290.55" y="323.05" width="1.70" height="10.50" fill="#5b1f73"/>
<rect x="207.35" y="334.45" width="1.70" height="10.50" fill="#5b1f73"/>
<rect x="53.95" y="345.85" width="1.70" height="10.50" fill="#5b1f73"/>
<rect x="293.15" y="357.25" width="1.70" height="10.50" fill="#5b1f73"/>
<rect x="220.35" y="368.65" width="1.70" height="10.50" fill="#c8102e"/>
<text x="247.10" y="390.00" font-size="8.5" text-anchor="middle" stroke="#231f20" stroke-width="0.18" textLength="65.40" lengthAdjust="spacingAndGlyphs">Individual (n=154)</text>
<rect x="455.00" y="197.80" width="41.40" height="10.00" fill="#134e86"/>
<rect x="455.00" y="209.20" width="27.60" height="10.00" fill="#134e86"/>
<rect x="455.00" y="220.60" width="6.21" height="10.00" fill="#134e86"/>
<rect x="455.00" y="232.00" width="4.14" height="10.00" fill="#134e86"/>
<rect x="455.00" y="243.40" width="3.45" height="10.00" fill="#134e86"/>
<rect x="455.00" y="254.80" width="2.07" height="10.00" fill="#134e86"/>
<rect x="455.00" y="266.20" width="2.07" height="10.00" fill="#134e86"/>
<rect x="455.00" y="277.60" width="2.07" height="10.00" fill="#134e86"/>
<rect x="455.00" y="289.00" width="1.38" height="10.00" fill="#134e86"/>
<rect x="455.00" y="300.40" width="1.38" height="10.00" fill="#134e86"/>
<rect x="455.00" y="311.80" width="0.69" height="10.00" fill="#134e86"/>
<rect x="455.00" y="323.20" width="0.69" height="10.00" fill="#134e86"/>
<rect x="455.00" y="334.60" width="0.69" height="10.00" fill="#134e86"/>
<rect x="455.00" y="346.00" width="0.69" height="10.00" fill="#134e86"/>
<rect x="455.00" y="357.40" width="0.69" height="10.00" fill="#134e86"/>
<rect x="455.00" y="368.80" width="0.69" height="10.00" fill="#134e86"/>
<rect x="455.00" y="197.20" width="42.50" height="182.40" fill="none" stroke="#231f20" stroke-width="1.2"/>
<line x1="455.00" y1="379.60" x2="455.00" y2="382.40" stroke="#231f20" stroke-width="1.0"/>
<text x="455.00" y="393.20" font-size="8.8" text-anchor="middle" stroke="#231f20" stroke-width="0.18" textLength="4.40" lengthAdjust="spacingAndGlyphs">0</text>
<line x1="465.62" y1="379.60" x2="465.62" y2="382.40" stroke="#231f20" stroke-width="1.0"/>
<text x="465.62" y="393.20" font-size="8.8" text-anchor="middle" stroke="#231f20" stroke-width="0.18" textLength="8.90" lengthAdjust="spacingAndGlyphs">10</text>
<line x1="476.25" y1="379.60" x2="476.25" y2="382.40" stroke="#231f20" stroke-width="1.0"/>
<text x="476.25" y="393.20" font-size="8.8" text-anchor="middle" stroke="#231f20" stroke-width="0.18" textLength="8.90" lengthAdjust="spacingAndGlyphs">20</text>
<line x1="486.88" y1="379.60" x2="486.88" y2="382.40" stroke="#231f20" stroke-width="1.0"/>
<text x="486.88" y="393.20" font-size="8.8" text-anchor="middle" stroke="#231f20" stroke-width="0.18" textLength="8.90" lengthAdjust="spacingAndGlyphs">30</text>
<line x1="497.50" y1="379.60" x2="497.50" y2="382.40" stroke="#231f20" stroke-width="1.0"/>
<text x="497.50" y="393.20" font-size="8.8" text-anchor="middle" stroke="#231f20" stroke-width="0.18" textLength="8.90" lengthAdjust="spacingAndGlyphs">40</text>
<text x="476.30" y="406.30" font-size="8.5" text-anchor="middle" stroke="#231f20" stroke-width="0.18" textLength="45.00" lengthAdjust="spacingAndGlyphs">Prevalence of</text>
<text x="476.30" y="418.20" font-size="8.5" text-anchor="middle" stroke="#231f20" stroke-width="0.18" textLength="44.00" lengthAdjust="spacingAndGlyphs">mutation (%)</text>
<text x="121.20" y="407.50" font-size="8.5" stroke="#231f20" stroke-width="0.18" textLength="50.00" lengthAdjust="spacingAndGlyphs">Mutation Type</text>
<rect x="121.70" y="413.00" width="7.30" height="7.00" fill="#c8102e"/>
<text x="131.90" y="419.40" font-size="8.5" stroke="#231f20" stroke-width="0.18" textLength="30.80" lengthAdjust="spacingAndGlyphs">stopgain</text>
<rect x="171.70" y="413.00" width="7.30" height="7.00" fill="#29abe2"/>
<text x="181.90" y="419.40" font-size="8.5" stroke="#231f20" stroke-width="0.18" textLength="36.50" lengthAdjust="spacingAndGlyphs">fs deletion</text>
<rect x="228.10" y="413.00" width="7.30" height="7.00" fill="#39b54a"/>
<text x="238.30" y="419.40" font-size="8.5" stroke="#231f20" stroke-width="0.18" textLength="38.60" lengthAdjust="spacingAndGlyphs">fs insertion</text>
<rect x="285.90" y="413.00" width="7.30" height="7.00" fill="#f7941d"/>
<text x="296.10" y="419.40" font-size="8.5" stroke="#231f20" stroke-width="0.18" textLength="27.30" lengthAdjust="spacingAndGlyphs">splicing</text>
<rect x="331.20" y="413.00" width="7.30" height="7.00" fill="#5b1f73"/>
<text x="341.40" y="419.40" font-size="8.5" stroke="#231f20" stroke-width="0.18" textLength="31.30" lengthAdjust="spacingAndGlyphs">missense</text>
<text x="7.40" y="445.20" font-size="11.5" class="b" font-weight="bold">D</text>
<line x1="89.60" y1="467.50" x2="75.90" y2="455.10" stroke="#151515" stroke-width="0.85"/>
<line x1="90.50" y1="467.50" x2="83.00" y2="455.10" stroke="#151515" stroke-width="0.85"/>
<line x1="94.60" y1="467.50" x2="89.80" y2="455.10" stroke="#151515" stroke-width="0.85"/>
<line x1="99.10" y1="467.50" x2="96.30" y2="455.10" stroke="#151515" stroke-width="0.85"/>
<line x1="99.70" y1="467.50" x2="103.30" y2="455.10" stroke="#151515" stroke-width="0.85"/>
<line x1="134.80" y1="467.50" x2="114.80" y2="455.10" stroke="#151515" stroke-width="0.85"/>
<line x1="136.50" y1="467.50" x2="120.50" y2="455.10" stroke="#151515" stroke-width="0.85"/>
<line x1="142.30" y1="467.50" x2="125.80" y2="455.10" stroke="#151515" stroke-width="0.85"/>
<line x1="143.80" y1="467.50" x2="130.80" y2="455.10" stroke="#151515" stroke-width="0.85"/>
<line x1="149.80" y1="467.50" x2="136.70" y2="455.10" stroke="#151515" stroke-width="0.85"/>
<line x1="136.70" y1="455.10" x2="136.70" y2="443.10" stroke="#151515" stroke-width="0.85"/>
<line x1="154.00" y1="467.50" x2="143.10" y2="455.10" stroke="#151515" stroke-width="0.85"/>
<line x1="143.10" y1="455.10" x2="143.10" y2="449.10" stroke="#151515" stroke-width="0.85"/>
<line x1="158.02" y1="467.50" x2="147.10" y2="455.10" stroke="#151515" stroke-width="0.85"/>
<line x1="160.94" y1="467.50" x2="150.00" y2="455.10" stroke="#151515" stroke-width="0.85"/>
<line x1="162.85" y1="467.50" x2="151.90" y2="455.10" stroke="#151515" stroke-width="0.85"/>
<line x1="164.76" y1="467.50" x2="153.80" y2="455.10" stroke="#151515" stroke-width="0.85"/>
<line x1="167.18" y1="467.50" x2="156.20" y2="455.10" stroke="#151515" stroke-width="0.85"/>
<line x1="169.19" y1="467.50" x2="158.20" y2="455.10" stroke="#151515" stroke-width="0.85"/>
<line x1="171.09" y1="467.50" x2="160.20" y2="455.10" stroke="#151515" stroke-width="0.85"/>
<line x1="172.15" y1="467.50" x2="162.50" y2="455.10" stroke="#151515" stroke-width="0.85"/>
<line x1="173.12" y1="467.50" x2="164.60" y2="455.10" stroke="#151515" stroke-width="0.85"/>
<line x1="174.82" y1="467.50" x2="168.30" y2="455.10" stroke="#151515" stroke-width="0.85"/>
<line x1="168.30" y1="455.10" x2="168.30" y2="449.10" stroke="#151515" stroke-width="0.85"/>
<line x1="176.25" y1="467.50" x2="171.40" y2="455.10" stroke="#151515" stroke-width="0.85"/>
<line x1="177.03" y1="467.50" x2="173.10" y2="455.10" stroke="#151515" stroke-width="0.85"/>
<line x1="178.00" y1="467.50" x2="175.20" y2="455.10" stroke="#151515" stroke-width="0.85"/>
<line x1="179.40" y1="467.50" x2="179.40" y2="455.10" stroke="#151515" stroke-width="0.85"/>
<line x1="179.40" y1="455.10" x2="179.40" y2="437.10" stroke="#151515" stroke-width="0.85"/>
<line x1="180.00" y1="467.50" x2="183.80" y2="455.10" stroke="#151515" stroke-width="0.85"/>
<line x1="181.10" y1="467.50" x2="185.80" y2="455.10" stroke="#151515" stroke-width="0.85"/>
<line x1="182.14" y1="467.50" x2="187.70" y2="455.10" stroke="#151515" stroke-width="0.85"/>
<line x1="183.19" y1="467.50" x2="189.60" y2="455.10" stroke="#151515" stroke-width="0.85"/>
<line x1="184.23" y1="467.50" x2="191.50" y2="455.10" stroke="#151515" stroke-width="0.85"/>
<line x1="185.33" y1="467.50" x2="193.50" y2="455.10" stroke="#151515" stroke-width="0.85"/>
<line x1="186.37" y1="467.50" x2="195.40" y2="455.10" stroke="#151515" stroke-width="0.85"/>
<line x1="187.53" y1="467.50" x2="197.50" y2="455.10" stroke="#151515" stroke-width="0.85"/>
<line x1="188.62" y1="467.50" x2="199.50" y2="455.10" stroke="#151515" stroke-width="0.85"/>
<line x1="189.72" y1="467.50" x2="201.50" y2="455.10" stroke="#151515" stroke-width="0.85"/>
<line x1="190.82" y1="467.50" x2="203.50" y2="455.10" stroke="#151515" stroke-width="0.85"/>
<line x1="191.76" y1="467.50" x2="205.20" y2="455.10" stroke="#151515" stroke-width="0.85"/>
<line x1="192.58" y1="467.50" x2="206.70" y2="455.10" stroke="#151515" stroke-width="0.85"/>
<line x1="193.57" y1="467.50" x2="208.50" y2="455.10" stroke="#151515" stroke-width="0.85"/>
<line x1="194.50" y1="467.50" x2="210.20" y2="455.10" stroke="#151515" stroke-width="0.85"/>
<line x1="196.76" y1="467.50" x2="214.30" y2="455.10" stroke="#151515" stroke-width="0.85"/>
<line x1="214.30" y1="455.10" x2="214.30" y2="449.10" stroke="#151515" stroke-width="0.85"/>
<line x1="199.67" y1="467.50" x2="219.60" y2="455.10" stroke="#151515" stroke-width="0.85"/>
<line x1="201.97" y1="467.50" x2="223.80" y2="455.10" stroke="#151515" stroke-width="0.85"/>
<line x1="205.38" y1="467.50" x2="230.00" y2="455.10" stroke="#151515" stroke-width="0.85"/>
<line x1="230.00" y1="455.10" x2="230.00" y2="449.10" stroke="#151515" stroke-width="0.85"/>
<line x1="209.50" y1="467.50" x2="237.50" y2="455.10" stroke="#151515" stroke-width="0.85"/>
<line x1="54.40" y1="478.80" x2="52.50" y2="490.80" stroke="#151515" stroke-width="0.85"/>
<line x1="81.90" y1="478.80" x2="76.20" y2="490.80" stroke="#151515" stroke-width="0.85"/>
<line x1="89.00" y1="478.80" x2="87.70" y2="490.80" stroke="#151515" stroke-width="0.85"/>
<line x1="114.00" y1="478.80" x2="105.90" y2="490.80" stroke="#151515" stroke-width="0.85"/>
<line x1="105.90" y1="490.80" x2="105.90" y2="496.65" stroke="#151515" stroke-width="0.85"/>
<line x1="122.80" y1="478.80" x2="115.40" y2="490.80" stroke="#151515" stroke-width="0.85"/>
<line x1="128.00" y1="478.80" x2="122.10" y2="490.80" stroke="#151515" stroke-width="0.85"/>
<line x1="131.60" y1="478.80" x2="127.60" y2="490.80" stroke="#151515" stroke-width="0.85"/>
<line x1="138.50" y1="478.80" x2="133.50" y2="490.80" stroke="#151515" stroke-width="0.85"/>
<line x1="144.90" y1="478.80" x2="139.40" y2="490.80" stroke="#151515" stroke-width="0.85"/>
<line x1="147.40" y1="478.80" x2="147.40" y2="490.80" stroke="#151515" stroke-width="0.85"/>
<line x1="147.40" y1="490.80" x2="147.40" y2="502.50" stroke="#151515" stroke-width="0.85"/>
<line x1="149.30" y1="478.80" x2="157.10" y2="490.80" stroke="#151515" stroke-width="0.85"/>
<line x1="157.10" y1="490.80" x2="157.10" y2="496.65" stroke="#151515" stroke-width="0.85"/>
<line x1="169.50" y1="478.80" x2="166.90" y2="490.80" stroke="#151515" stroke-width="0.85"/>
<line x1="172.00" y1="478.80" x2="173.50" y2="490.80" stroke="#151515" stroke-width="0.85"/>
<line x1="182.30" y1="478.80" x2="180.30" y2="490.80" stroke="#151515" stroke-width="0.85"/>
<line x1="183.00" y1="478.80" x2="186.20" y2="490.80" stroke="#151515" stroke-width="0.85"/>
<line x1="184.00" y1="478.80" x2="192.30" y2="490.80" stroke="#151515" stroke-width="0.85"/>
<line x1="195.70" y1="478.80" x2="199.70" y2="490.80" stroke="#151515" stroke-width="0.85"/>
<line x1="200.30" y1="478.80" x2="207.40" y2="490.80" stroke="#151515" stroke-width="0.85"/>
<line x1="207.70" y1="478.80" x2="216.60" y2="490.80" stroke="#151515" stroke-width="0.85"/>
<rect x="22.30" y="467.50" width="190.10" height="11.30" fill="#c3c3ca" stroke="#231f20" stroke-width="1.1"/>
<rect x="83.30" y="467.50" width="16.90" height="11.30" fill="#d5574f" stroke="#231f20" stroke-width="1.1"/>
<rect x="122.80" y="467.50" width="27.60" height="11.30" fill="#d5574f" stroke="#231f20" stroke-width="1.1"/>
<rect x="152.90" y="467.50" width="59.50" height="11.30" fill="#d5574f" stroke="#231f20" stroke-width="1.1"/>
<circle cx="75.90" cy="455.10" r="1.45" fill="#5b1f73"/>
<circle cx="83.00" cy="455.10" r="1.45" fill="#5b1f73"/>
<circle cx="89.80" cy="455.10" r="1.45" fill="#5b1f73"/>
<circle cx="96.30" cy="455.10" r="1.45" fill="#5b1f73"/>
<circle cx="103.30" cy="455.10" r="1.45" fill="#5b1f73"/>
<circle cx="114.80" cy="455.10" r="1.45" fill="#5b1f73"/>
<circle cx="120.50" cy="455.10" r="1.45" fill="#5b1f73"/>
<circle cx="125.80" cy="455.10" r="1.45" fill="#5b1f73"/>
<circle cx="130.80" cy="455.10" r="1.45" fill="#5b1f73"/>
<circle cx="136.70" cy="455.10" r="1.45" fill="#5b1f73"/>
<circle cx="136.70" cy="449.10" r="1.45" fill="#5b1f73"/>
<circle cx="136.70" cy="443.10" r="1.45" fill="#5b1f73"/>
<circle cx="143.10" cy="455.10" r="1.45" fill="#5b1f73"/>
<circle cx="143.10" cy="449.10" r="1.45" fill="#5b1f73"/>
<circle cx="147.10" cy="455.10" r="1.45" fill="#5b1f73"/>
<circle cx="150.00" cy="455.10" r="1.45" fill="#5b1f73"/>
<circle cx="151.90" cy="455.10" r="1.45" fill="#5b1f73"/>
<circle cx="153.80" cy="455.10" r="1.45" fill="#5b1f73"/>
<circle cx="156.20" cy="455.10" r="1.45" fill="#5b1f73"/>
<circle cx="158.20" cy="455.10" r="1.45" fill="#5b1f73"/>
<circle cx="160.20" cy="455.10" r="1.45" fill="#5b1f73"/>
<circle cx="162.50" cy="455.10" r="1.45" fill="#5b1f73"/>
<circle cx="164.60" cy="455.10" r="1.45" fill="#5b1f73"/>
<circle cx="168.30" cy="455.10" r="1.45" fill="#5b1f73"/>
<circle cx="168.30" cy="449.10" r="1.45" fill="#5b1f73"/>
<circle cx="171.40" cy="455.10" r="1.45" fill="#5b1f73"/>
<circle cx="173.10" cy="455.10" r="1.45" fill="#5b1f73"/>
<circle cx="175.20" cy="455.10" r="1.45" fill="#5b1f73"/>
<circle cx="179.40" cy="455.10" r="1.45" fill="#5b1f73"/>
<circle cx="179.40" cy="449.10" r="1.45" fill="#5b1f73"/>
<circle cx="179.40" cy="443.10" r="1.45" fill="#5b1f73"/>
<circle cx="179.40" cy="437.10" r="1.45" fill="#5b1f73"/>
<circle cx="183.80" cy="455.10" r="1.45" fill="#5b1f73"/>
<circle cx="185.80" cy="455.10" r="1.45" fill="#5b1f73"/>
<circle cx="187.70" cy="455.10" r="1.45" fill="#5b1f73"/>
<circle cx="189.60" cy="455.10" r="1.45" fill="#5b1f73"/>
<circle cx="191.50" cy="455.10" r="1.45" fill="#5b1f73"/>
<circle cx="193.50" cy="455.10" r="1.45" fill="#5b1f73"/>
<circle cx="195.40" cy="455.10" r="1.45" fill="#5b1f73"/>
<circle cx="197.50" cy="455.10" r="1.45" fill="#5b1f73"/>
<circle cx="199.50" cy="455.10" r="1.45" fill="#5b1f73"/>
<circle cx="201.50" cy="455.10" r="1.45" fill="#5b1f73"/>
<circle cx="203.50" cy="455.10" r="1.45" fill="#5b1f73"/>
<circle cx="205.20" cy="455.10" r="1.45" fill="#5b1f73"/>
<circle cx="206.70" cy="455.10" r="1.45" fill="#5b1f73"/>
<circle cx="208.50" cy="455.10" r="1.45" fill="#5b1f73"/>
<circle cx="210.20" cy="455.10" r="1.45" fill="#5b1f73"/>
<circle cx="214.30" cy="455.10" r="1.45" fill="#5b1f73"/>
<circle cx="214.30" cy="449.10" r="1.45" fill="#5b1f73"/>
<circle cx="219.60" cy="455.10" r="1.45" fill="#5b1f73"/>
<circle cx="223.80" cy="455.10" r="1.45" fill="#5b1f73"/>
<circle cx="230.00" cy="455.10" r="1.45" fill="#5b1f73"/>
<circle cx="230.00" cy="449.10" r="1.45" fill="#5b1f73"/>
<circle cx="237.50" cy="455.10" r="1.45" fill="#5b1f73"/>
<circle cx="52.50" cy="490.80" r="1.45" fill="#29abe2"/>
<circle cx="76.20" cy="490.80" r="1.45" fill="#c8102e"/>
<circle cx="87.70" cy="490.80" r="1.45" fill="#c8102e"/>
<circle cx="105.90" cy="490.80" r="1.45" fill="#c8102e"/>
<circle cx="105.90" cy="496.65" r="1.45" fill="#c8102e"/>
<circle cx="115.40" cy="490.80" r="1.45" fill="#c8102e"/>
<circle cx="122.10" cy="490.80" r="1.45" fill="#29abe2"/>
<circle cx="127.60" cy="490.80" r="1.45" fill="#c8102e"/>
<circle cx="133.50" cy="490.80" r="1.45" fill="#c8102e"/>
<circle cx="139.40" cy="490.80" r="1.45" fill="#29abe2"/>
<circle cx="147.40" cy="490.80" r="1.45" fill="#c8102e"/>
<circle cx="147.40" cy="496.65" r="1.45" fill="#c8102e"/>
<circle cx="147.40" cy="502.50" r="1.45" fill="#c8102e"/>
<circle cx="157.10" cy="490.80" r="1.45" fill="#c8102e"/>
<circle cx="157.10" cy="496.65" r="1.45" fill="#29abe2"/>
<circle cx="166.90" cy="490.80" r="1.45" fill="#29abe2"/>
<circle cx="173.50" cy="490.80" r="1.45" fill="#29abe2"/>
<circle cx="180.30" cy="490.80" r="1.45" fill="#29abe2"/>
<circle cx="186.20" cy="490.80" r="1.45" fill="#c8102e"/>
<circle cx="192.30" cy="490.80" r="1.45" fill="#c8102e"/>
<circle cx="199.70" cy="490.80" r="1.45" fill="#29abe2"/>
<circle cx="207.40" cy="490.80" r="1.45" fill="#29abe2"/>
<circle cx="216.60" cy="490.80" r="1.45" fill="#c8102e"/>
<text x="33.90" y="461.60" font-size="8.5" stroke="#231f20" stroke-width="0.18" textLength="35.00" lengthAdjust="spacingAndGlyphs">DNMT3A</text>
<line x1="19.20" y1="507.70" x2="233.60" y2="507.70" stroke="#231f20" stroke-width="1.2"/>
<line x1="22.50" y1="507.70" x2="22.50" y2="510.30" stroke="#231f20" stroke-width="1.0"/>
<text x="22.50" y="520.90" font-size="8.5" text-anchor="middle" stroke="#231f20" stroke-width="0.18">0</text>
<line x1="74.63" y1="507.70" x2="74.63" y2="510.30" stroke="#231f20" stroke-width="1.0"/>
<text x="74.63" y="520.90" font-size="8.5" text-anchor="middle" stroke="#231f20" stroke-width="0.18">250</text>
<line x1="126.76" y1="507.70" x2="126.76" y2="510.30" stroke="#231f20" stroke-width="1.0"/>
<text x="126.76" y="520.90" font-size="8.5" text-anchor="middle" stroke="#231f20" stroke-width="0.18">500</text>
<line x1="178.89" y1="507.70" x2="178.89" y2="510.30" stroke="#231f20" stroke-width="1.0"/>
<text x="178.89" y="520.90" font-size="8.5" text-anchor="middle" stroke="#231f20" stroke-width="0.18">750</text>
<line x1="231.02" y1="507.70" x2="231.02" y2="510.30" stroke="#231f20" stroke-width="1.0"/>
<text x="231.02" y="520.90" font-size="8.5" text-anchor="middle" stroke="#231f20" stroke-width="0.18">1000</text>
<text x="126.70" y="534.20" font-size="8.8" text-anchor="middle" stroke="#231f20" stroke-width="0.18" textLength="68.80" lengthAdjust="spacingAndGlyphs">Amino acid position</text>
<text x="256.60" y="446.20" font-size="11.5" class="b" font-weight="bold">E</text>
<line x1="393.00" y1="468.00" x2="387.20" y2="452.00" stroke="#151515" stroke-width="0.85"/>
<line x1="395.00" y1="468.00" x2="391.20" y2="452.00" stroke="#151515" stroke-width="0.85"/>
<line x1="395.40" y1="468.00" x2="394.90" y2="452.00" stroke="#151515" stroke-width="0.85"/>
<line x1="399.00" y1="468.00" x2="398.80" y2="452.00" stroke="#151515" stroke-width="0.85"/>
<line x1="403.80" y1="468.00" x2="403.50" y2="452.00" stroke="#151515" stroke-width="0.85"/>
<line x1="403.50" y1="452.00" x2="403.50" y2="443.50" stroke="#151515" stroke-width="0.85"/>
<line x1="406.50" y1="468.00" x2="408.30" y2="452.00" stroke="#151515" stroke-width="0.85"/>
<line x1="410.00" y1="468.00" x2="412.50" y2="452.00" stroke="#151515" stroke-width="0.85"/>
<line x1="414.00" y1="468.00" x2="416.80" y2="452.00" stroke="#151515" stroke-width="0.85"/>
<line x1="420.00" y1="468.00" x2="422.50" y2="452.00" stroke="#151515" stroke-width="0.85"/>
<line x1="469.50" y1="468.00" x2="466.60" y2="452.00" stroke="#151515" stroke-width="0.85"/>
<line x1="469.50" y1="468.00" x2="471.80" y2="452.00" stroke="#151515" stroke-width="0.85"/>
<line x1="269.60" y1="479.40" x2="267.30" y2="496.20" stroke="#151515" stroke-width="0.85"/>
<line x1="278.00" y1="479.40" x2="274.50" y2="496.20" stroke="#151515" stroke-width="0.85"/>
<line x1="281.50" y1="479.40" x2="279.30" y2="496.20" stroke="#151515" stroke-width="0.85"/>
<line x1="287.30" y1="479.40" x2="283.90" y2="496.20" stroke="#151515" stroke-width="0.85"/>
<line x1="288.00" y1="479.40" x2="287.80" y2="496.20" stroke="#151515" stroke-width="0.85"/>
<line x1="292.70" y1="479.40" x2="291.20" y2="496.20" stroke="#151515" stroke-width="0.85"/>
<line x1="293.50" y1="479.40" x2="295.00" y2="496.20" stroke="#151515" stroke-width="0.85"/>
<line x1="298.80" y1="479.40" x2="298.50" y2="496.20" stroke="#151515" stroke-width="0.85"/>
<line x1="299.60" y1="479.40" x2="302.20" y2="496.20" stroke="#151515" stroke-width="0.85"/>
<line x1="304.20" y1="479.40" x2="306.50" y2="496.20" stroke="#151515" stroke-width="0.85"/>
<line x1="310.70" y1="479.40" x2="312.20" y2="496.20" stroke="#151515" stroke-width="0.85"/>
<line x1="320.70" y1="479.40" x2="320.70" y2="496.20" stroke="#151515" stroke-width="0.85"/>
<line x1="320.70" y1="496.20" x2="320.70" y2="504.20" stroke="#151515" stroke-width="0.85"/>
<line x1="327.80" y1="479.40" x2="328.40" y2="496.20" stroke="#151515" stroke-width="0.85"/>
<line x1="338.50" y1="479.40" x2="334.60" y2="496.20" stroke="#151515" stroke-width="0.85"/>
<line x1="338.50" y1="479.40" x2="338.80" y2="496.20" stroke="#151515" stroke-width="0.85"/>
<line x1="338.50" y1="479.40" x2="342.60" y2="496.20" stroke="#151515" stroke-width="0.85"/>
<line x1="348.50" y1="479.40" x2="348.80" y2="496.20" stroke="#151515" stroke-width="0.85"/>
<line x1="355.40" y1="479.40" x2="355.40" y2="496.20" stroke="#151515" stroke-width="0.85"/>
<line x1="365.70" y1="479.40" x2="362.30" y2="496.20" stroke="#151515" stroke-width="0.85"/>
<line x1="365.70" y1="479.40" x2="366.50" y2="496.20" stroke="#151515" stroke-width="0.85"/>
<line x1="365.70" y1="479.40" x2="370.80" y2="496.20" stroke="#151515" stroke-width="0.85"/>
<line x1="386.60" y1="479.40" x2="385.40" y2="496.20" stroke="#151515" stroke-width="0.85"/>
<line x1="390.80" y1="479.40" x2="391.50" y2="496.20" stroke="#151515" stroke-width="0.85"/>
<line x1="407.80" y1="479.40" x2="403.30" y2="496.20" stroke="#151515" stroke-width="0.85"/>
<line x1="410.00" y1="479.40" x2="407.50" y2="496.20" stroke="#151515" stroke-width="0.85"/>
<line x1="411.00" y1="479.40" x2="411.20" y2="496.20" stroke="#151515" stroke-width="0.85"/>
<line x1="412.00" y1="479.40" x2="414.70" y2="496.20" stroke="#151515" stroke-width="0.85"/>
<line x1="413.00" y1="479.40" x2="418.50" y2="496.20" stroke="#151515" stroke-width="0.85"/>
<line x1="426.00" y1="479.40" x2="426.00" y2="496.20" stroke="#151515" stroke-width="0.85"/>
<line x1="426.00" y1="496.20" x2="426.00" y2="504.20" stroke="#151515" stroke-width="0.85"/>
<line x1="430.80" y1="479.40" x2="433.20" y2="496.20" stroke="#151515" stroke-width="0.85"/>
<line x1="448.50" y1="479.40" x2="445.90" y2="496.20" stroke="#151515" stroke-width="0.85"/>
<line x1="450.40" y1="479.40" x2="450.70" y2="496.20" stroke="#151515" stroke-width="0.85"/>
<line x1="452.80" y1="479.40" x2="455.70" y2="496.20" stroke="#151515" stroke-width="0.85"/>
<line x1="463.20" y1="479.40" x2="464.60" y2="496.20" stroke="#151515" stroke-width="0.85"/>
<line x1="473.60" y1="479.40" x2="474.40" y2="496.20" stroke="#151515" stroke-width="0.85"/>
<rect x="269.30" y="468.00" width="213.30" height="11.40" fill="#c3c3ca" stroke="#231f20" stroke-width="1.1"/>
<rect x="386.90" y="468.00" width="40.40" height="11.40" fill="#d5574f" stroke="#231f20" stroke-width="1.1"/>
<rect x="465.40" y="468.00" width="17.20" height="11.40" fill="#d5574f" stroke="#231f20" stroke-width="1.1"/>
<circle cx="387.20" cy="452.00" r="1.45" fill="#5b1f73"/>
<circle cx="391.20" cy="452.00" r="1.45" fill="#5b1f73"/>
<circle cx="394.90" cy="452.00" r="1.45" fill="#5b1f73"/>
<circle cx="398.80" cy="452.00" r="1.45" fill="#5b1f73"/>
<circle cx="403.50" cy="452.00" r="1.45" fill="#5b1f73"/>
<circle cx="403.50" cy="443.50" r="1.45" fill="#5b1f73"/>
<circle cx="408.30" cy="452.00" r="1.45" fill="#5b1f73"/>
<circle cx="412.50" cy="452.00" r="1.45" fill="#5b1f73"/>
<circle cx="416.80" cy="452.00" r="1.45" fill="#5b1f73"/>
<circle cx="422.50" cy="452.00" r="1.45" fill="#5b1f73"/>
<circle cx="466.60" cy="452.00" r="1.45" fill="#5b1f73"/>
<circle cx="471.80" cy="452.00" r="1.45" fill="#5b1f73"/>
<circle cx="267.30" cy="496.20" r="1.45" fill="#29abe2"/>
<circle cx="274.50" cy="496.20" r="1.45" fill="#29abe2"/>
<circle cx="279.30" cy="496.20" r="1.45" fill="#29abe2"/>
<circle cx="283.90" cy="496.20" r="1.45" fill="#29abe2"/>
<circle cx="287.80" cy="496.20" r="1.45" fill="#29abe2"/>
<circle cx="291.20" cy="496.20" r="1.45" fill="#29abe2"/>
<circle cx="295.00" cy="496.20" r="1.45" fill="#39b54a"/>
<circle cx="298.50" cy="496.20" r="1.45" fill="#29abe2"/>
<circle cx="302.20" cy="496.20" r="1.45" fill="#29abe2"/>
<circle cx="306.50" cy="496.20" r="1.45" fill="#29abe2"/>
<circle cx="312.20" cy="496.20" r="1.45" fill="#c8102e"/>
<circle cx="320.70" cy="496.20" r="1.45" fill="#c8102e"/>
<circle cx="320.70" cy="504.20" r="1.45" fill="#c8102e"/>
<circle cx="328.40" cy="496.20" r="1.45" fill="#29abe2"/>
<circle cx="334.60" cy="496.20" r="1.45" fill="#c8102e"/>
<circle cx="338.80" cy="496.20" r="1.45" fill="#29abe2"/>
<circle cx="342.60" cy="496.20" r="1.45" fill="#29abe2"/>
<circle cx="348.80" cy="496.20" r="1.45" fill="#c8102e"/>
<circle cx="355.40" cy="496.20" r="1.45" fill="#29abe2"/>
<circle cx="362.30" cy="496.20" r="1.45" fill="#c8102e"/>
<circle cx="366.50" cy="496.20" r="1.45" fill="#c8102e"/>
<circle cx="370.80" cy="496.20" r="1.45" fill="#c8102e"/>
<circle cx="385.40" cy="496.20" r="1.45" fill="#29abe2"/>
<circle cx="391.50" cy="496.20" r="1.45" fill="#29abe2"/>
<circle cx="403.30" cy="496.20" r="1.45" fill="#39b54a"/>
<circle cx="407.50" cy="496.20" r="1.45" fill="#c8102e"/>
<circle cx="411.20" cy="496.20" r="1.45" fill="#29abe2"/>
<circle cx="414.70" cy="496.20" r="1.45" fill="#29abe2"/>
<circle cx="418.50" cy="496.20" r="1.45" fill="#c8102e"/>
<circle cx="426.00" cy="496.20" r="1.45" fill="#c8102e"/>
<circle cx="426.00" cy="504.20" r="1.45" fill="#c8102e"/>
<circle cx="433.20" cy="496.20" r="1.45" fill="#29abe2"/>
<circle cx="445.90" cy="496.20" r="1.45" fill="#c8102e"/>
<circle cx="450.70" cy="496.20" r="1.45" fill="#c8102e"/>
<circle cx="455.70" cy="496.20" r="1.45" fill="#29abe2"/>
<circle cx="464.60" cy="496.20" r="1.45" fill="#c8102e"/>
<circle cx="474.40" cy="496.20" r="1.45" fill="#29abe2"/>
<text x="273.20" y="463.10" font-size="8.5" stroke="#231f20" stroke-width="0.18" textLength="18.70" lengthAdjust="spacingAndGlyphs">TET2</text>
<line x1="266.50" y1="507.60" x2="485.40" y2="507.60" stroke="#231f20" stroke-width="1.2"/>
<line x1="269.50" y1="507.60" x2="269.50" y2="510.30" stroke="#231f20" stroke-width="1.0"/>
<text x="269.50" y="520.90" font-size="8.5" text-anchor="middle" stroke="#231f20" stroke-width="0.18">0</text>
<line x1="322.72" y1="507.60" x2="322.72" y2="510.30" stroke="#231f20" stroke-width="1.0"/>
<text x="322.72" y="520.90" font-size="8.5" text-anchor="middle" stroke="#231f20" stroke-width="0.18">500</text>
<line x1="375.94" y1="507.60" x2="375.94" y2="510.30" stroke="#231f20" stroke-width="1.0"/>
<text x="375.94" y="520.90" font-size="8.5" text-anchor="middle" stroke="#231f20" stroke-width="0.18">1000</text>
<line x1="429.16" y1="507.60" x2="429.16" y2="510.30" stroke="#231f20" stroke-width="1.0"/>
<text x="429.16" y="520.90" font-size="8.5" text-anchor="middle" stroke="#231f20" stroke-width="0.18">1500</text>
<line x1="482.38" y1="507.60" x2="482.38" y2="510.30" stroke="#231f20" stroke-width="1.0"/>
<text x="482.38" y="520.90" font-size="8.5" text-anchor="middle" stroke="#231f20" stroke-width="0.18">2000</text>
<text x="375.70" y="534.20" font-size="8.8" text-anchor="middle" stroke="#231f20" stroke-width="0.18" textLength="68.80" lengthAdjust="spacingAndGlyphs">Amino acid position</text>
</svg><div id="frame"></div></div></body></html>
